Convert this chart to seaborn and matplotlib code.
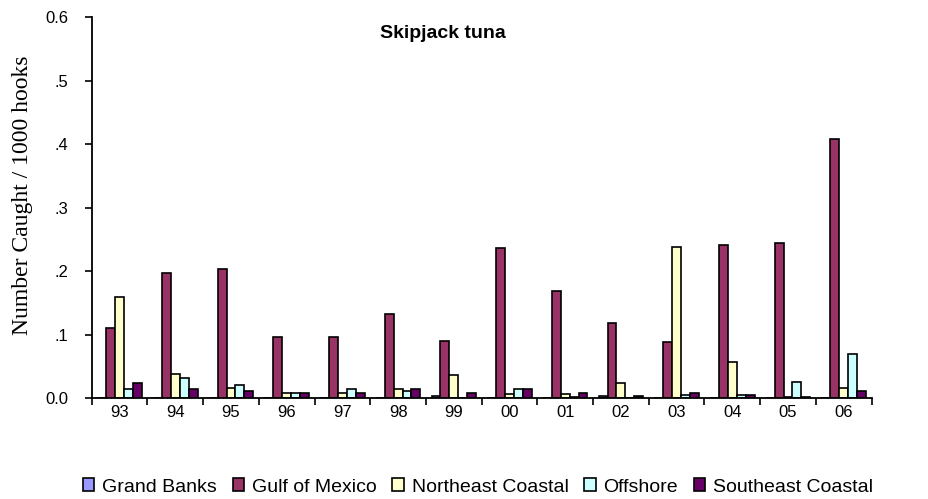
import numpy as np
import pandas as pd
import matplotlib
matplotlib.use("Agg")
import matplotlib.pyplot as plt
import seaborn as sns

# Catch rates by year and fishing area
years = ['93', '94', '95', '96', '97', '98', '99', '00', '01', '02', '03', '04', '05', '06']
grand_banks = [0.0, 0.0, 0.0, 0.0, 0.0, 0.0, 0.003, 0.0, 0.0, 0.003, 0.0, 0.0, 0.0, 0.0]
gulf_of_mexico = [0.111, 0.197, 0.203, 0.097, 0.097, 0.133, 0.091, 0.236, 0.169, 0.118, 0.088, 0.242, 0.245, 0.408]
northeast_coastal = [0.160, 0.039, 0.017, 0.008, 0.008, 0.015, 0.036, 0.006, 0.006, 0.024, 0.239, 0.057, 0.002, 0.017]
offshore = [0.014, 0.032, 0.021, 0.008, 0.015, 0.012, 0.0, 0.015, 0.002, 0.0, 0.005, 0.005, 0.025, 0.069]
southeast_coastal = [0.024, 0.015, 0.012, 0.008, 0.008, 0.015, 0.009, 0.015, 0.009, 0.003, 0.009, 0.005, 0.002, 0.012]

areas = ['Grand Banks', 'Gulf of Mexico', 'Northeast Coastal', 'Offshore', 'Southeast Coastal']
area_colors = ['#9999FF', '#993366', '#FFFFCC', '#CCFFFF', '#660066']
ytick_values = [0.0, 0.1, 0.2, 0.3, 0.4, 0.5, 0.6]
ytick_labels = ['0.0', '.1', '.2', '.3', '.4', '.5', '0.6']

series = [grand_banks, gulf_of_mexico, northeast_coastal, offshore, southeast_coastal]
df = pd.DataFrame({
    'year': np.tile(years, len(areas)),
    'area': np.repeat(areas, len(years)),
    'rate': np.concatenate(series),
})

sns.set_theme(style='white')
plt.rcParams['font.family'] = ['Liberation Sans', 'DejaVu Sans']
plt.rcParams.update({'text.color': 'black', 'axes.labelcolor': 'black',
                     'xtick.color': 'black', 'ytick.color': 'black'})

fig = plt.figure(figsize=(9.29, 4.99), dpi=100)
ax = fig.add_axes([91.7 / 929, 1 - 398.3 / 499, (871.6 - 91.7) / 929, (398.3 - 17.3) / 499])

sns.barplot(data=df, x='year', y='rate', hue='area', order=years, hue_order=areas,
            palette=area_colors, edgecolor='black', linewidth=1.2, width=0.8,
            saturation=1, ax=ax)

ax.set_xlim(-0.5, len(years) - 0.5)
ax.set_ylim(0, 0.6)
ax.set_xlabel('')
ax.set_ylabel('')

# y axis
ax.set_yticks(ytick_values)
ax.set_yticklabels(ytick_labels, fontsize=12)
ax.tick_params(axis='y', direction='out', length=5, width=1.2, color='black',
               labelcolor='black', left=True, pad=12)

# x axis: tick marks between groups, labels centred under groups
ax.set_xticks(np.arange(-0.5, len(years) + 0.5, 1.0))
ax.set_xticklabels([])
ax.set_xticks(np.arange(len(years)), minor=True)
ax.set_xticklabels(years, minor=True, fontsize=12)
ax.tick_params(axis='x', which='major', direction='out', length=5, width=1.2, color='black', bottom=True)
ax.tick_params(axis='x', which='minor', length=0, pad=5, labelcolor='black')

for side in ['top', 'right']:
    ax.spines[side].set_visible(False)
for side in ['left', 'bottom']:
    ax.spines[side].set_color('black')
    ax.spines[side].set_linewidth(1.3)

fig.text(443 / 929, 1 - 33 / 499, 'Skipjack tuna', ha='center', va='center',
         fontsize=14, fontweight='bold', color='black')
fig.text(23 / 929, 1 - 195 / 499, 'Number Caught / 1000 hooks', rotation=90,
         ha='center', va='center', fontsize=17, color='black',
         family=['Liberation Serif', 'DejaVu Serif'])

sns.move_legend(ax, 'center', bbox_to_anchor=(478 / 929, 1 - 487 / 499),
                bbox_transform=fig.transFigure, ncol=5, frameon=False, title=None,
                fontsize=14, handlelength=0.6, handleheight=0.6, handletextpad=0.4,
                columnspacing=0.8, borderpad=0)
for h in ax.get_legend().legend_handles:
    h.set_edgecolor('black')
    h.set_linewidth(1.2)
for t in ax.get_legend().get_texts():
    t.set_color('black')

fig.savefig('out.png', dpi=100, facecolor='white')
